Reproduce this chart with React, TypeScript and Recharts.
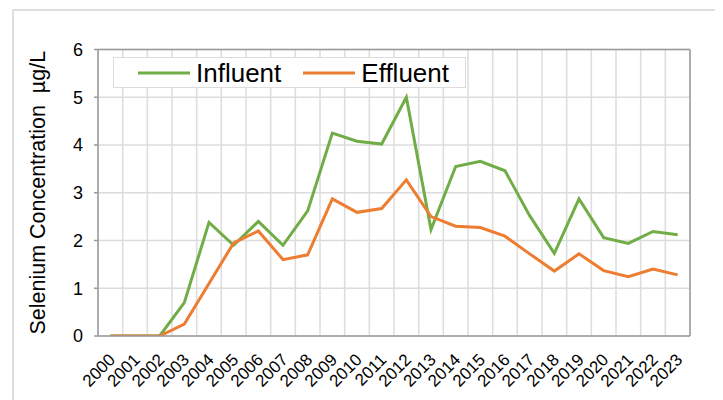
import React from 'react';
import {
  LineChart,
  Line,
  XAxis,
  YAxis,
  CartesianGrid,
  Legend,
  ReferenceLine,
} from 'recharts';

const years = [
  '2000', '2001', '2002', '2003', '2004', '2005', '2006', '2007', '2008', '2009', '2010', '2011',
  '2012', '2013', '2014', '2015', '2016', '2017', '2018', '2019', '2020', '2021', '2022', '2023',
];
const influent = [
  0, 0, 0, 0.7, 2.38, 1.9, 2.4, 1.9, 2.62, 4.25, 4.08, 4.02,
  5.0, 2.23, 3.55, 3.66, 3.46, 2.52, 1.73, 2.87, 2.06, 1.94, 2.19, 2.12,
];
const effluent = [
  0, 0, 0, 0.25, 1.1, 1.95, 2.2, 1.6, 1.7, 2.87, 2.59, 2.67,
  3.27, 2.5, 2.3, 2.27, 2.09, 1.72, 1.36, 1.72, 1.37, 1.24, 1.4, 1.28,
];
const seriesNames = ['Influent', 'Effluent'];
const yTicks = [0, 1, 2, 3, 4, 5, 6];

const data = years.map((year, idx) => ({
  idx,
  year,
  Influent: influent[idx],
  Effluent: effluent[idx],
}));
const xTicks = years.map((_, i) => i);
const gridValues = [...years.map((_, i) => i - 0.5), years.length - 0.5];

const FONT = '"Liberation Sans", Arial, sans-serif';
const AXIS_COLOR = '#9a9a9a';
const GRID_COLOR = '#dcdcdc';

const XTick = (props: any) => {
  const { x, y, payload } = props;
  return (
    <text
      x={x + 2}
      y={y}
      transform={`rotate(-45, ${x + 2}, ${y})`}
      textAnchor="end"
      dominantBaseline="central"
      fontSize={17}
      fontFamily={FONT}
      fill="#000"
    >
      {years[payload.value]}
    </text>
  );
};

const LegendContent = (props: any) => {
  const payload = [...(props.payload || [])].sort(
    (a: any, b: any) => seriesNames.indexOf(a.value) - seriesNames.indexOf(b.value)
  );
  return (
    <div
      style={{
        display: 'flex',
        alignItems: 'center',
        height: 31,
        border: '1.5px solid #dcdcdc',
        background: '#fff',
        paddingLeft: 24,
        boxSizing: 'border-box',
        fontFamily: FONT,
        fontSize: 26,
        color: '#000',
      }}
    >
      {payload.map((entry: any, i: number) => (
        <div
          key={entry.value}
          style={{ display: 'flex', alignItems: 'center', marginLeft: i === 0 ? 0 : 22 }}
        >
          <svg width={52} height={6} style={{ marginRight: 6 }}>
            <line x1={0} y1={3} x2={52} y2={3} stroke={entry.color} strokeWidth={3} />
          </svg>
          <span style={{ lineHeight: '26px' }}>{entry.value}</span>
        </div>
      ))}
    </div>
  );
};

export default function App() {
  return (
    <div style={{ position: 'relative', width: 715, height: 392, overflow: 'hidden', background: '#fff' }}>
      <div
        style={{
          position: 'absolute',
          left: 4,
          top: 1,
          width: 800,
          height: 500,
          border: '2px solid #dedede',
        }}
      />
      <div style={{ position: 'absolute', left: 0, top: 0 }}>
        <LineChart
          width={715}
          height={392}
          data={data}
          margin={{ top: 41.5, right: 33, bottom: 0, left: 0 }}
          style={{ fontFamily: FONT }}
        >
          <CartesianGrid
            stroke={GRID_COLOR}
            strokeWidth={1.5}
            verticalValues={gridValues}
            horizontalValues={yTicks}
          />
          <XAxis
            dataKey="idx"
            type="number"
            domain={[-0.5, years.length - 0.5]}
            allowDataOverflow
            ticks={xTicks}
            interval={0}
            height={64}
            tickSize={0}
            tickMargin={21}
            tickLine={false}
            axisLine={{ stroke: AXIS_COLOR, strokeWidth: 1.5 }}
            tick={<XTick />}
          />
          <YAxis
            type="number"
            domain={[0, 6]}
            allowDataOverflow
            ticks={yTicks}
            interval={0}
            width={90}
            tickSize={4}
            tickMargin={11}
            tickLine={{ stroke: AXIS_COLOR, strokeWidth: 1.5 }}
            axisLine={{ stroke: AXIS_COLOR, strokeWidth: 1.5 }}
            tick={{ fontSize: 18, fill: '#000', fontFamily: FONT }}
            label={{
              value: 'Selenium Concentration\u00a0\u00a0\u00b5g/L',
              angle: -90,
              position: 'insideLeft',
              offset: 29,
              style: { textAnchor: 'middle', fontSize: 21.5, fill: '#000', fontFamily: FONT },
            }}
          />
          <ReferenceLine y={6} stroke={AXIS_COLOR} strokeWidth={1.5} />
          <ReferenceLine x={years.length - 0.5} stroke={AXIS_COLOR} strokeWidth={1.5} />
          <Legend
            layout="horizontal"
            verticalAlign="middle"
            align="center"
            content={<LegendContent />}
            wrapperStyle={{ left: 105, top: 49, width: 353, height: 33 }}
          />
          <Line
            type="linear"
            dataKey="Influent"
            stroke="#70AD47"
            strokeWidth={3}
            dot={false}
            activeDot={false}
            isAnimationActive={false}
          />
          <Line
            type="linear"
            dataKey="Effluent"
            stroke="#ED7D31"
            strokeWidth={3}
            dot={false}
            activeDot={false}
            isAnimationActive={false}
          />
        </LineChart>
      </div>
    </div>
  );
}
